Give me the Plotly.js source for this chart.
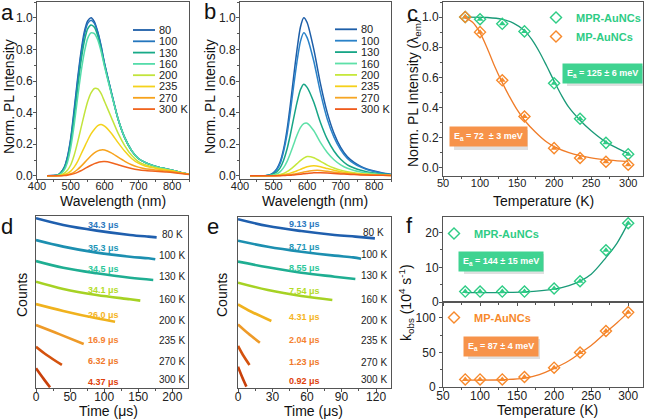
<!DOCTYPE html>
<html><head><meta charset="utf-8">
<script src="https://cdn.plot.ly/plotly-3.0.1.min.js"></script>
<style>html,body{margin:0;padding:0;background:#fff}#chart{width:651px;height:420px}</style>
</head><body><div id="chart"></div>
<script>
// ---------- DATA ----------
const tempLabels = ['80','100','130','160','200','235','270','300 K'];
const specColorsA = ['#1d5ea8','#2476bd','#18aa88','#55dcaa','#c2e43c','#f4d21c','#f7a21b','#f0641e'];
const specColorsB = ['#1d5ea8','#2a82c8','#17a586','#5ee0a8','#c6e83c','#f5d01a','#f6a624','#ef5a1c'];
const wl = [430,460,470,480,490,500,510,520,530,540,550,560,570,580,590,600,620,640,660,680,700,720,740,760,780,800,825,850];
// panel a (MPR-AuNCs) normalized PL
const specA80  = [0,0.005,0.02,0.05,0.12,0.24,0.42,0.61,0.78,0.91,0.98,1.0,0.975,0.91,0.82,0.71,0.53,0.36,0.24,0.16,0.11,0.085,0.068,0.055,0.045,0.035,0.022,0.01];
const specA100 = [0,0.005,0.02,0.05,0.115,0.23,0.40,0.59,0.76,0.89,0.965,0.985,0.965,0.905,0.815,0.71,0.53,0.36,0.24,0.16,0.11,0.085,0.068,0.055,0.045,0.035,0.022,0.01];
const specA130 = [0,0.004,0.017,0.045,0.10,0.21,0.37,0.55,0.72,0.85,0.93,0.955,0.94,0.885,0.80,0.70,0.525,0.36,0.24,0.16,0.11,0.085,0.068,0.055,0.045,0.035,0.022,0.01];
const specA160 = [0,0.003,0.013,0.035,0.085,0.18,0.32,0.49,0.65,0.78,0.87,0.905,0.90,0.86,0.785,0.69,0.52,0.36,0.24,0.16,0.11,0.085,0.068,0.055,0.045,0.035,0.022,0.01];
const specA200 = [0,0.002,0.006,0.016,0.035,0.07,0.13,0.21,0.30,0.39,0.47,0.525,0.553,0.55,0.52,0.47,0.37,0.27,0.19,0.13,0.09,0.07,0.058,0.048,0.04,0.032,0.02,0.01];
const specA235 = [0,0.001,0.003,0.008,0.016,0.03,0.055,0.09,0.135,0.18,0.225,0.265,0.295,0.318,0.325,0.315,0.27,0.21,0.155,0.11,0.08,0.062,0.052,0.044,0.037,0.03,0.02,0.01];
const specA270 = [0,0,0.001,0.003,0.007,0.013,0.024,0.04,0.06,0.082,0.105,0.127,0.145,0.158,0.164,0.163,0.145,0.118,0.092,0.07,0.055,0.045,0.04,0.035,0.03,0.026,0.018,0.01];
const specA300 = [0,0,0.001,0.002,0.004,0.008,0.014,0.022,0.032,0.044,0.056,0.067,0.077,0.085,0.089,0.09,0.083,0.07,0.057,0.046,0.038,0.033,0.03,0.027,0.024,0.021,0.015,0.008];
// panel b (MP-AuNCs) normalized PL
const specB80  = [0,0,0.001,0.003,0.008,0.02,0.045,0.09,0.17,0.29,0.45,0.63,0.80,0.94,1.0,0.97,0.80,0.58,0.40,0.27,0.18,0.12,0.085,0.06,0.042,0.03,0.018,0.01];
const specB100 = [0,0,0.001,0.003,0.007,0.018,0.04,0.08,0.155,0.26,0.405,0.57,0.725,0.85,0.905,0.875,0.725,0.525,0.36,0.245,0.165,0.11,0.077,0.055,0.038,0.027,0.016,0.009];
const specB130 = [0,0,0.001,0.002,0.005,0.012,0.026,0.052,0.099,0.168,0.26,0.365,0.465,0.545,0.58,0.56,0.465,0.336,0.232,0.157,0.105,0.07,0.05,0.035,0.025,0.018,0.011,0.006];
const specB160 = [0,0,0,0.001,0.003,0.006,0.013,0.027,0.052,0.09,0.142,0.2,0.258,0.305,0.33,0.333,0.285,0.21,0.148,0.102,0.07,0.048,0.034,0.025,0.018,0.013,0.008,0.004];
const specB200 = [0,0,0,0,0.001,0.002,0.004,0.008,0.015,0.026,0.041,0.058,0.077,0.096,0.112,0.122,0.115,0.092,0.068,0.05,0.036,0.026,0.019,0.014,0.011,0.008,0.005,0.003];
const specB235 = [0,0,0,0,0,0.001,0.002,0.004,0.007,0.011,0.017,0.024,0.032,0.041,0.05,0.057,0.064,0.058,0.046,0.035,0.026,0.019,0.014,0.011,0.008,0.006,0.004,0.002];
const specB270 = [0,0,0,0,0,0,0.001,0.002,0.003,0.005,0.008,0.011,0.015,0.019,0.024,0.028,0.034,0.034,0.029,0.023,0.018,0.014,0.011,0.008,0.006,0.005,0.003,0.002];
const specB300 = [0,0,0,0,0,0,0,0.001,0.002,0.003,0.004,0.006,0.008,0.01,0.013,0.015,0.019,0.02,0.018,0.015,0.012,0.01,0.008,0.006,0.005,0.004,0.003,0.002];

// panel c: integrated PL vs temperature
const tempK = [80,100,130,160,200,235,270,300];
const cMPR = [1.0,0.985,0.955,0.905,0.56,0.325,0.165,0.09];
const cMP  = [1.0,0.90,0.58,0.34,0.13,0.065,0.04,0.02];
const cFitMPR_T = [80,110,130,145,160,170,180,190,200,210,220,235,250,270,285,300];
const cFitMPR   = [1.0,0.997,0.985,0.96,0.91,0.85,0.77,0.675,0.575,0.48,0.40,0.315,0.245,0.17,0.13,0.095];
const cFitMP_T  = [80,90,100,110,120,130,140,150,160,175,190,200,220,250,275,300];
const cFitMP    = [0.995,0.965,0.895,0.79,0.67,0.565,0.47,0.385,0.315,0.235,0.17,0.14,0.10,0.065,0.05,0.04];

// panel d / e: PL decays (arbitrary stacked counts)
const decayColors = ['#1f5fae','#1c8fb0','#1fae92','#a6d224','#f0b21e','#ee9a28','#d4520e','#c9400a'];
const tauColors   = ['#2a78c0','#1e96b8','#2cc89a','#b4dc28','#f5b41e','#f58232','#f0782a','#e0400a'];
const decayTemps = ['80 K','100 K','130 K','160 K','200 K','235 K','270 K','300 K'];
const dTimes = [[0,40,89,138,165,177],[0,40,89,138,165,175],[0,40,89,138,172],[0,40,89,138,153],[0,40,89,116],[0,35,70],[0,15.7,38],[0,10.7,20.6]];
const dCounts = [[9.87,9.48,9.15,8.90,8.80,8.76],[8.60,8.22,7.87,7.63,7.54,7.48],[7.38,6.99,6.67,6.41,6.28],[6.18,5.76,5.41,5.16,5.08],[4.88,4.48,4.05,3.85],[3.66,3.12,2.56],[2.40,1.92,1.34],[1.15,0.56,0.04]];
const dTau = ['34.3 μs','35.3 μs','34.5 μs','34.1 μs','26.0 μs','16.9 μs','6.32 μs','4.37 μs'];
const eTimes = [[0,26,55,84,102,119],[0,26,55,84,100,107],[0,26,55,84,102],[0,26,55,82],[0,11.6,29],[0,8.7,19],[0,4.3,10],[0,3.5,7.3]];
const eCounts = [[9.87,9.47,9.18,8.95,8.85,8.75],[8.61,8.26,7.97,7.74,7.64,7.56],[7.39,7.06,6.74,6.51,6.37],[6.16,5.73,5.38,5.15],[4.89,4.46,3.92],[3.72,3.20,2.65],[2.46,1.93,1.35],[1.25,0.66,0.08]];
const eTau = ['9.13 μs','8.71 μs','8.55 μs','7.54 μs','4.31 μs','2.04 μs','1.23 μs','0.92 μs'];

// panel f: k_obs vs temperature
const fMPR = [3.0,3.0,3.0,3.0,3.9,6.0,14.9,22.7];
const fMP  = [11,11,11,14.5,28,50,81,108];
const fFitMPR_T = [80,120,160,200,220,235,250,270,285,300];
const fFitMPR   = [2.7,2.7,2.9,3.7,4.7,6.0,8.0,12.8,17.0,22.8];
const fFitMP_T  = [80,130,160,180,200,220,235,250,270,285,300];
const fFitMP    = [10,10.5,13,18,27,38,49,60,79,93,108];

// ---------- LAYOUT HELPERS ----------
const W=651,H=420;
const fx=p=>p/W, fy=p=>1-p/H;
const F='Liberation Sans, Arial, sans-serif';
const GREEN='#2ecc85', GREENL='#1a9a78', ORANGE='#f7892b', ORANGEL='#f07c28';
const specA=[specA80,specA100,specA130,specA160,specA200,specA235,specA270,specA300];
const specB=[specB80,specB100,specB130,specB160,specB200,specB235,specB270,specB300];

const traces=[];
specA.forEach((s,i)=>traces.push({x:wl,y:s,xaxis:'x',yaxis:'y',mode:'lines',line:{color:specColorsA[i],width:1.5,shape:'spline',smoothing:0.6},showlegend:false,hoverinfo:'skip'}));
specB.forEach((s,i)=>traces.push({x:wl,y:s,xaxis:'x2',yaxis:'y2',mode:'lines',line:{color:specColorsB[i],width:1.5,shape:'spline',smoothing:0.6},showlegend:false,hoverinfo:'skip'}));

function tempSeries(xa,ya,T,vals,fitT,fit,col,lcol,name,legend){
  traces.push({x:fitT,y:fit,xaxis:xa,yaxis:ya,mode:'lines',line:{color:lcol,width:1.3,shape:'spline'},showlegend:false,hoverinfo:'skip'});
  traces.push({x:T,y:vals,xaxis:xa,yaxis:ya,mode:'markers',marker:{symbol:'triangle-up',size:6,color:col},showlegend:false,hoverinfo:'skip'});
  traces.push({x:T,y:vals,xaxis:xa,yaxis:ya,mode:'markers',name:name,legend:legend,marker:{symbol:'diamond-open',size:8.5,color:col,line:{width:1.4,color:col}},showlegend:true});
}
tempSeries('x3','y3',tempK,cMPR,cFitMPR_T,cFitMPR,GREEN,GREENL,'<b>MPR-AuNCs</b>','legend');
tempSeries('x3','y3',tempK,cMP,cFitMP_T,cFitMP,ORANGE,ORANGEL,'<b>MP-AuNCs</b>','legend');
tempSeries('x6','y6',tempK,fMPR,fFitMPR_T,fFitMPR,GREEN,GREENL,'<b>MPR-AuNCs</b>','legend2');
tempSeries('x7','y7',tempK,fMP,fFitMP_T,fFitMP,ORANGE,ORANGEL,'<b>MP-AuNCs</b>','legend3');

dTimes.forEach((t,i)=>traces.push({x:t,y:dCounts[i],xaxis:'x4',yaxis:'y4',mode:'lines',line:{color:decayColors[i],width:2.6,shape:'spline'},showlegend:false,hoverinfo:'skip'}));
eTimes.forEach((t,i)=>traces.push({x:t,y:eCounts[i],xaxis:'x5',yaxis:'y5',mode:'lines',line:{color:decayColors[i],width:2.6,shape:'spline'},showlegend:false,hoverinfo:'skip'}));

const MINOR=(d)=>({ticks:'outside',ticklen:2,tickcolor:'#555',dtick:d,showgrid:false});
const ax = (o)=>Object.assign({showline:true,linecolor:'#555',linewidth:1,mirror:true,ticks:'outside',ticklen:3,tickwidth:1,tickcolor:'#555',showgrid:false,zeroline:false,tickfont:{family:F,size:12,color:'#222'}},o);
const xaxT = (o)=>ax(Object.assign({ticklabelstandoff:-6,tickfont:{family:F,size:11,color:'#222'}},o));
const xaxB = (o)=>ax(Object.assign({ticklabelstandoff:-5},o));
const yax = (o)=>ax(Object.assign({ticklabelstandoff:-2},o));
const noY = (o)=>Object.assign({showline:true,linecolor:'#555',linewidth:1,mirror:true,ticks:'',showticklabels:false,showgrid:false,zeroline:false},o);

const layout={
  width:W,height:H,margin:{l:0,r:0,t:0,b:0},paper_bgcolor:'#fff',plot_bgcolor:'#fff',font:{family:F},
  xaxis: xaxT({domain:[fx(37),fx(189)],range:[400,850],dtick:100,minor:MINOR(50),anchor:'y'}),
  yaxis: yax({domain:[fy(179),fy(2)],range:[-0.02,1.1],dtick:0.2,tickformat:'.1f',minor:MINOR(0.1),anchor:'x'}),
  xaxis2: xaxT({domain:[fx(240),fx(391)],range:[400,850],dtick:100,minor:MINOR(50),anchor:'y2'}),
  yaxis2: yax({domain:[fy(179),fy(2)],range:[-0.02,1.1],dtick:0.2,tickformat:'.1f',minor:MINOR(0.1),anchor:'x2'}),
  xaxis3: xaxT({domain:[fx(443),fx(643)],range:[50,320],dtick:50,minor:MINOR(25),anchor:'y3'}),
  yaxis3: yax({domain:[fy(176),fy(2)],range:[-0.055,1.1],dtick:0.2,tickformat:'.1f',minor:MINOR(0.1),anchor:'x3'}),
  xaxis4: xaxB({domain:[fx(36),fx(188)],range:[0,223],dtick:50,minor:MINOR(25),anchor:'y4'}),
  yaxis4: noY({domain:[fy(388),fy(216)],range:[0,10],anchor:'x4'}),
  xaxis5: xaxB({domain:[fx(238),fx(391)],range:[0,133],dtick:30,minor:MINOR(15),anchor:'y5'}),
  yaxis5: noY({domain:[fy(388),fy(217)],range:[0,10],anchor:'x5'}),
  xaxis6: xaxB({domain:[fx(443),fx(643)],range:[50,320],dtick:50,showticklabels:false,minor:MINOR(25),anchor:'y6'}),
  yaxis6: yax({domain:[fy(302),fy(217)],range:[0,24.5],tickvals:[0,10,20],minor:MINOR(5),anchor:'x6'}),
  xaxis7: xaxB({domain:[fx(443),fx(643)],range:[50,320],dtick:50,minor:MINOR(25),anchor:'y7'}),
  yaxis7: ax({domain:[fy(387),fy(302)],range:[0,123],tickvals:[0,50,100],ticklabelstandoff:1,minor:MINOR(25),anchor:'x7'}),
  legend:{x:fx(536),y:fy(3),xanchor:'left',yanchor:'top',bgcolor:'rgba(0,0,0,0)',font:{family:F,size:11,color:GREEN},itemwidth:30,tracegroupgap:0},
  legend2:{x:fx(434),y:fy(219),xanchor:'left',yanchor:'top',bgcolor:'rgba(0,0,0,0)',font:{family:F,size:11,color:GREEN},itemwidth:30},
  legend3:{x:fx(434),y:fy(303),xanchor:'left',yanchor:'top',bgcolor:'rgba(0,0,0,0)',font:{family:F,size:11,color:ORANGE},itemwidth:30},
  annotations:[],shapes:[]
};
const A=layout.annotations, S=layout.shapes;
function ann(text,x,y,o){A.push(Object.assign({text:text,x:fx(x),y:fy(y),xref:'paper',yref:'paper',xanchor:'center',yanchor:'middle',showarrow:false,font:{family:F,size:14,color:'#111'}},o||{}));}
// panel letters
[['a',7,12],['b',210,11],['c',412,13],['d',7,226],['e',213,226],['f',409,225]].forEach(l=>ann(l[0],l[1],l[2],{font:{family:F,size:22,color:'#111'}}));
// axis titles
ann('Wavelength (nm)',113,201);
ann('Wavelength (nm)',315,201);
ann('Temperature (K)',543,201);
ann('Norm. PL Intensity',9,97,{textangle:-90});
ann('Norm. PL Intensity',210,97,{textangle:-90});
ann('Norm. PL Intensity (λ<sub>em</sub>)',414,93,{textangle:-90});
ann('Time (μs)',108,411);
ann('Time (μs)',313,411);
ann('Temperature (K)',547,410);
ann('Counts',22,295,{textangle:-90});
ann('Counts',222,295,{textangle:-90});
ann('k<sub>obs</sub> (10<sup>4</sup> s<sup>-1</sup>)',406,303,{textangle:-90});
// spectra legends (manual)
tempLabels.forEach((t,i)=>{
  const ya=30+i*11.3, yb=29.3+i*11.4;
  S.push({type:'line',xref:'paper',yref:'paper',x0:fx(133),x1:fx(155),y0:fy(ya),y1:fy(ya),line:{color:specColorsA[i],width:1.8}});
  ann(t,157,ya,{xanchor:'left',font:{family:F,size:11,color:'#222'}});
  S.push({type:'line',xref:'paper',yref:'paper',x0:fx(335),x1:fx(357),y0:fy(yb),y1:fy(yb),line:{color:specColorsB[i],width:1.8}});
  ann(t,359,yb,{xanchor:'left',font:{family:F,size:11,color:'#222'}});
});
// Ea boxes (with soft shadow)
function box(text,x,y,w,h,bg){
  S.push({type:'rect',xref:'paper',yref:'paper',x0:fx(x-w/2+3),x1:fx(x+w/2+3),y0:fy(y+h/2+3),y1:fy(y-h/2+3),line:{width:0},fillcolor:'rgba(0,0,0,0.12)',layer:'above'});
  ann(text,x,y,{bgcolor:bg,borderpad:4,font:{family:F,size:9,color:'#fff'}});
}
box('<b>E<sub>a</sub> = 125 ± 6 meV</b>',602,73,76,20,'#3fd391');
box('<b>E<sub>a</sub> = 72  ± 3 meV</b>',488,137,74,20,'#f7934a');
box('<b>E<sub>a</sub> = 144 ± 15 meV</b>',501,261,80,20,'#3fd391');
box('<b>E<sub>a</sub> = 87 ± 4 meV</b>',501,346,72,20,'#f7934a');
// decay labels
const dTauY=[9.48,8.16,6.92,5.70,4.24,2.79,1.57,0.37], dTY=[8.94,7.73,6.47,5.16,3.91,2.75,1.53,0.47];
const eTauY=[9.57,8.26,7.04,5.69,4.17,2.81,1.54,0.41], eTY=[9.11,7.82,6.55,5.20,3.94,2.77,1.50,0.47];
dTau.forEach((s,i)=>{
  A.push({text:'<b>'+s+'</b>',x:98.5,y:dTauY[i],xref:'x4',yref:'y4',showarrow:false,font:{family:F,size:9,color:tauColors[i]}});
  A.push({text:decayTemps[i],x:200,y:dTY[i],xref:'x4',yref:'y4',showarrow:false,font:{family:F,size:10,color:'#222'}});
});
eTau.forEach((s,i)=>{
  A.push({text:'<b>'+s+'</b>',x:58,y:eTauY[i],xref:'x5',yref:'y5',showarrow:false,font:{family:F,size:9,color:tauColors[i]}});
  A.push({text:decayTemps[i],x:118,y:eTY[i],xref:'x5',yref:'y5',showarrow:false,font:{family:F,size:10,color:'#222'}});
});
Plotly.newPlot('chart',traces,layout,{staticPlot:true,displayModeBar:false});
</script></body></html>
